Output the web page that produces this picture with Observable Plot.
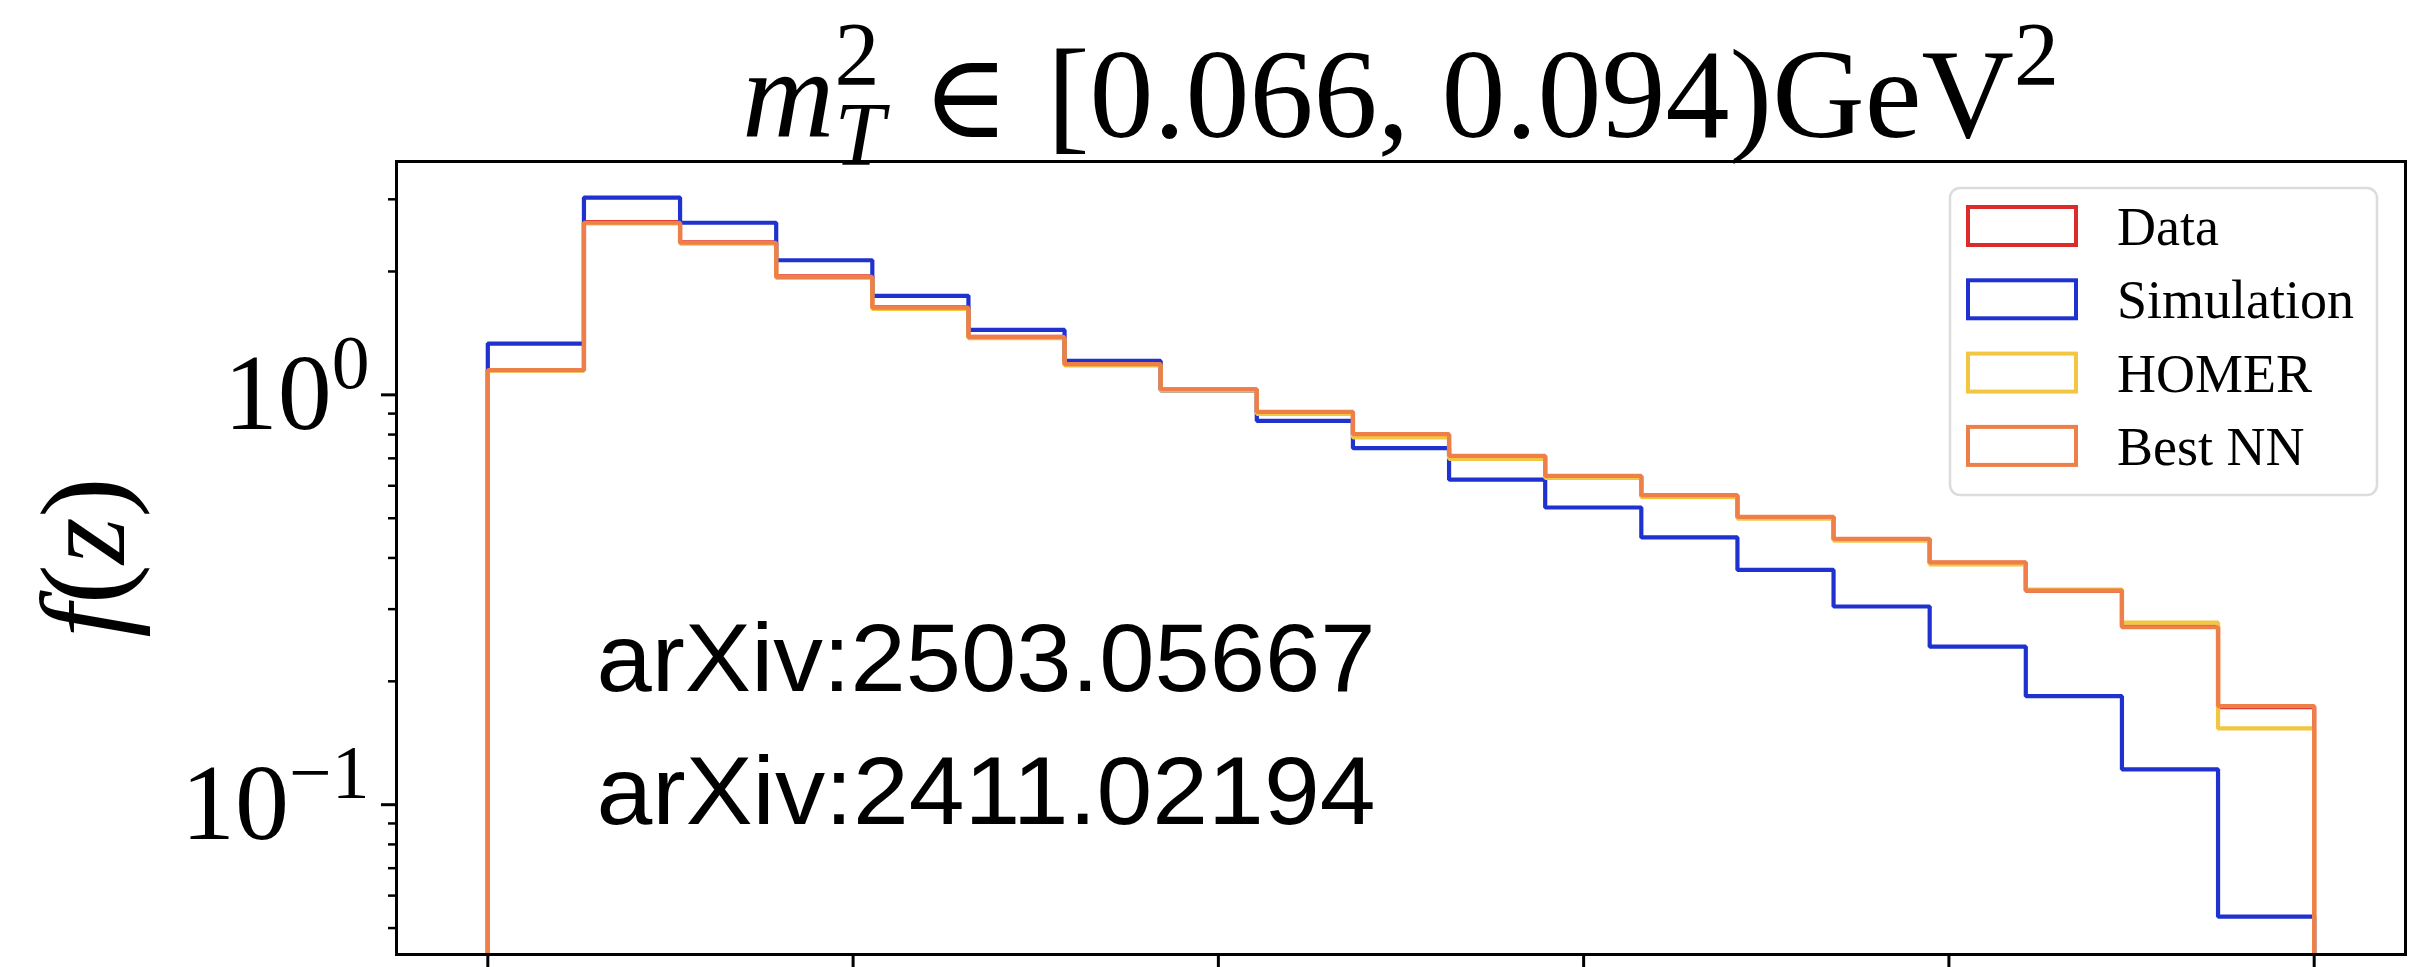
<!DOCTYPE html>
<html>
<head>
<meta charset="utf-8">
<script src="https://cdn.jsdelivr.net/npm/d3@7"></script>
<script src="https://cdn.jsdelivr.net/npm/@observablehq/plot@0.6"></script>
<style>
  html, body { margin: 0; padding: 0; background: #ffffff; }
  #chart { position: relative; width: 2429px; height: 967px; overflow: hidden; }
</style>
</head>
<body>
<div id="chart"></div>
<script>
// ---------- data ----------
const seriesNames = ["Data", "Simulation", "HOMER", "Best NN"];
const seriesColors = ["#db2b2b", "#1f32cf", "#f2c643", "#ee7f48"];

// histogram binning of z (19 equal bins on [0, 1])
const binLow = 0;
const binHigh = 1;
const binCount = 19;

// f(z) per bin
const dataValues = [1.15, 2.64, 2.355, 1.945, 1.635, 1.385, 1.19, 1.03, 0.905, 0.798, 0.706, 0.632, 0.567, 0.503, 0.444, 0.389, 0.333, 0.272, 0.173];
const simulationValues = [1.334, 3.03, 2.63, 2.13, 1.744, 1.44, 1.21, 1.025, 0.864, 0.741, 0.621, 0.531, 0.449, 0.374, 0.3045, 0.243, 0.184, 0.122, 0.0533];
const homerValues = [1.145, 2.62, 2.34, 1.93, 1.62, 1.375, 1.18, 1.025, 0.899, 0.787, 0.698, 0.627, 0.563, 0.499, 0.441, 0.386, 0.335, 0.278, 0.1535];
const bestNNValues = [1.149, 2.63, 2.35, 1.94, 1.633, 1.383, 1.188, 1.032, 0.909, 0.802, 0.710, 0.634, 0.569, 0.504, 0.445, 0.390, 0.333, 0.271, 0.174];

// axes
const xTicks = [0, 0.2, 0.4, 0.6, 0.8, 1.0];
const yMajorTicks = [0.1, 1];
const yMajorExponents = ["\u22121", "0"];
const yMinorTicks = [0.05, 0.06, 0.07, 0.08, 0.09, 0.2, 0.3, 0.4, 0.5, 0.6, 0.7, 0.8, 0.9, 2, 3];

// texts
const titleSymbol = " \u2208 ";
const titleRange = "[0.066, 0.094)GeV";
const annotations = ["arXiv:2503.05667", "arXiv:2411.02194"];

// ---------- build ----------
const W = 2429, H = 967;
const M = {left: 396, right: 24, top: 161, bottom: 13};

const edges = d3.range(binCount + 1).map(i => binLow + (binHigh - binLow) * i / binCount);
const FLOOR = 1e-4; // below the visible domain, clipped (histogram drops to zero)
const allValues = [dataValues, simulationValues, homerValues, bestNNValues];
const rows = [];
seriesNames.forEach((name, s) => {
  const v = allValues[s];
  rows.push({series: name, x: edges[0], y: FLOOR});
  v.forEach((val, i) => rows.push({series: name, x: edges[i], y: val}));
  rows.push({series: name, x: edges[binCount], y: v[binCount - 1]});
  rows.push({series: name, x: edges[binCount], y: FLOOR});
});

const lineMarks = seriesNames.map((name, s) =>
  Plot.line(rows.filter(r => r.series === name), {
    x: "x", y: "y", curve: "step-after", stroke: seriesColors[s],
    strokeWidth: 4.2, clip: true, strokeLinejoin: "miter"
  })
);

const chart = Plot.plot({
  width: W, height: H,
  marginLeft: M.left, marginRight: M.right, marginTop: M.top, marginBottom: M.bottom,
  style: {background: "#ffffff", fontFamily: "Liberation Serif", color: "#000"},
  x: {domain: [-0.05, 1.05]},
  y: {type: "log", domain: [0.0431, 3.71]},
  marks: [
    ...lineMarks,
    Plot.frame({stroke: "#000", strokeWidth: 3}),
    Plot.axisX({ticks: xTicks, tickSize: 15, tickFormat: () => "", label: null, strokeWidth: 3}),
    Plot.axisY({ticks: yMinorTicks, tickSize: 8, tickFormat: () => "", label: null, strokeWidth: 2.5}),
    Plot.axisY({ticks: yMajorTicks, tickSize: 15, tickPadding: 12, tickFormat: d => String(d), fontSize: 108, label: null, strokeWidth: 3}),
    Plot.text([annotations[0]], {frameAnchor: "top-left", text: d => d, dx: 200, dy: 690 - M.top,
      textAnchor: "start", lineAnchor: "bottom", fontFamily: "Liberation Sans", fontSize: 97, fill: "#000"}),
    Plot.text([annotations[1]], {frameAnchor: "top-left", text: d => d, dx: 200, dy: 823 - M.top,
      textAnchor: "start", lineAnchor: "bottom", fontFamily: "Liberation Sans", fontSize: 97, fill: "#000"})
  ]
});

document.getElementById("chart").appendChild(chart);
const svg = d3.select(chart);

// y tick labels as 10^k
svg.selectAll('g[aria-label="y-axis tick label"] text').each(function() {
  const t = d3.select(this);
  const j = yMajorTicks.map(String).indexOf(t.text());
  if (j < 0) return;
  t.text("10");
  t.append("tspan").attr("font-size", "0.7em").attr("dy", "-0.55em").text(yMajorExponents[j]);
});

// annotation text width as in the picture
svg.selectAll('g[aria-label="text"] text').attr("textLength", 779).attr("lengthAdjust", "spacingAndGlyphs");

// title
const frameCx = M.left + (W - M.left - M.right) / 2;
const title = svg.append("text").attr("x", frameCx).attr("y", 137)
  .attr("text-anchor", "middle").attr("font-family", "Liberation Serif").attr("font-size", 128).attr("fill", "#000");
title.append("tspan").attr("font-style", "italic").text("m");
title.append("tspan").attr("font-size", 90).attr("dy", -52).text("2");
title.append("tspan").attr("font-style", "italic").attr("font-size", 90).attr("dx", -45).attr("dy", 80).text("T");
title.append("tspan").attr("dy", -28).attr("font-family", "DejaVu Serif").attr("font-size", 118).text(titleSymbol);
title.append("tspan").text(titleRange);
title.append("tspan").attr("font-size", 90).attr("dy", -52).text("2");

// y label f(z)
const ylab = svg.append("text").attr("transform", `translate(124,${M.top + (H - M.top - M.bottom) / 2}) rotate(-90)`)
  .attr("text-anchor", "middle").attr("font-family", "Liberation Serif").attr("font-size", 120).attr("fill", "#000");
ylab.append("tspan").attr("font-style", "italic").text("f");
ylab.append("tspan").text("(");
ylab.append("tspan").attr("font-style", "italic").text("z");
ylab.append("tspan").text(")");

// legend (upper right inside frame)
const frameRight = W - M.right;
const lg = svg.append("g").attr("aria-label", "legend").attr("text-anchor", "start");
const boxW = 427, boxH = 307, boxX = frameRight - 28 - boxW, boxY = M.top + 27;
lg.append("rect").attr("x", boxX).attr("y", boxY).attr("width", boxW).attr("height", boxH)
  .attr("rx", 10).attr("fill", "#fff").attr("fill-opacity", 0.8).attr("stroke", "#dcdcdc").attr("stroke-width", 2.5);
seriesNames.forEach((name, i) => {
  const cy = boxY + 38 + i * 73.3;
  lg.append("rect").attr("x", boxX + 18).attr("y", cy - 19).attr("width", 108).attr("height", 38)
    .attr("fill", "none").attr("stroke", seriesColors[i]).attr("stroke-width", 4);
  lg.append("text").attr("x", boxX + 167).attr("y", cy + 19).attr("text-anchor", "start")
    .attr("font-family", "Liberation Serif").attr("font-size", 54).attr("fill", "#000").text(name);
});
</script>
</body>
</html>
